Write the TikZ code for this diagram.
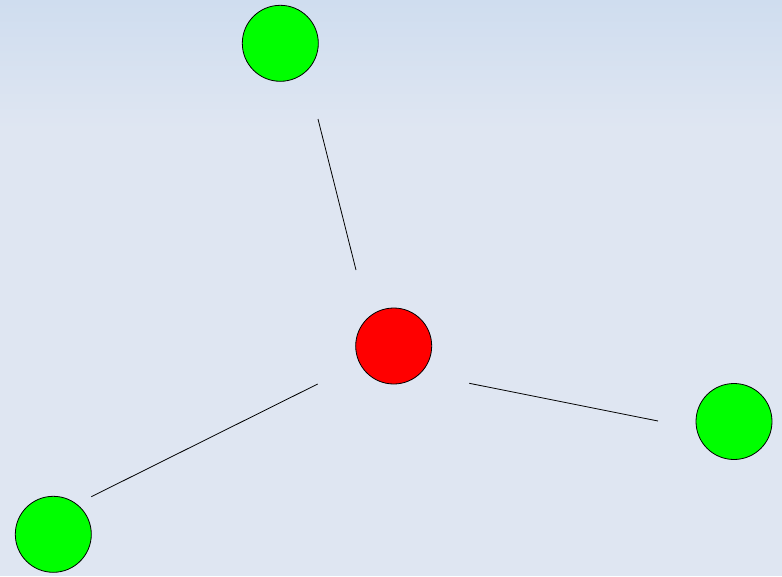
\documentclass[tikz,border=0pt]{standalone}
\begin{document}
\begin{tikzpicture}[x=1pt,y=-1pt,
  ball/.style={circle,draw=black,line width=0.8pt,minimum size=76pt,inner sep=0pt},
  greenball/.style={ball,fill=green},
  redball/.style={ball,fill=red},
  link/.style={draw=black,line width=0.8pt}]
\definecolor{bgtop}{RGB}{207,221,239}
\definecolor{bgmid}{RGB}{223,230,242}
\useasboundingbox (0,0) rectangle (782,576);
\fill[bgmid] (0,0) rectangle (782,576);
\shade[top color=bgtop,bottom color=bgmid] (0,0) rectangle (782,130);
\node[greenball] (top) at (280.3,43.3) {};
\node[redball] (center) at (393.7,346) {};
\node[greenball] (right) at (734,421.5) {};
\node[greenball] (left) at (53.3,534.3) {};
\coordinate (t1) at (318,119);
\coordinate (t2) at (356,270);
\coordinate (l1) at (317.7,384);
\coordinate (l2) at (91.3,496.7);
\coordinate (r1) at (469.3,383.3);
\coordinate (r2) at (658,421);
\draw[link] (t1) -- (t2);
\draw[link] (l1) -- (l2);
\draw[link] (r1) -- (r2);
\end{tikzpicture}
\end{document}
